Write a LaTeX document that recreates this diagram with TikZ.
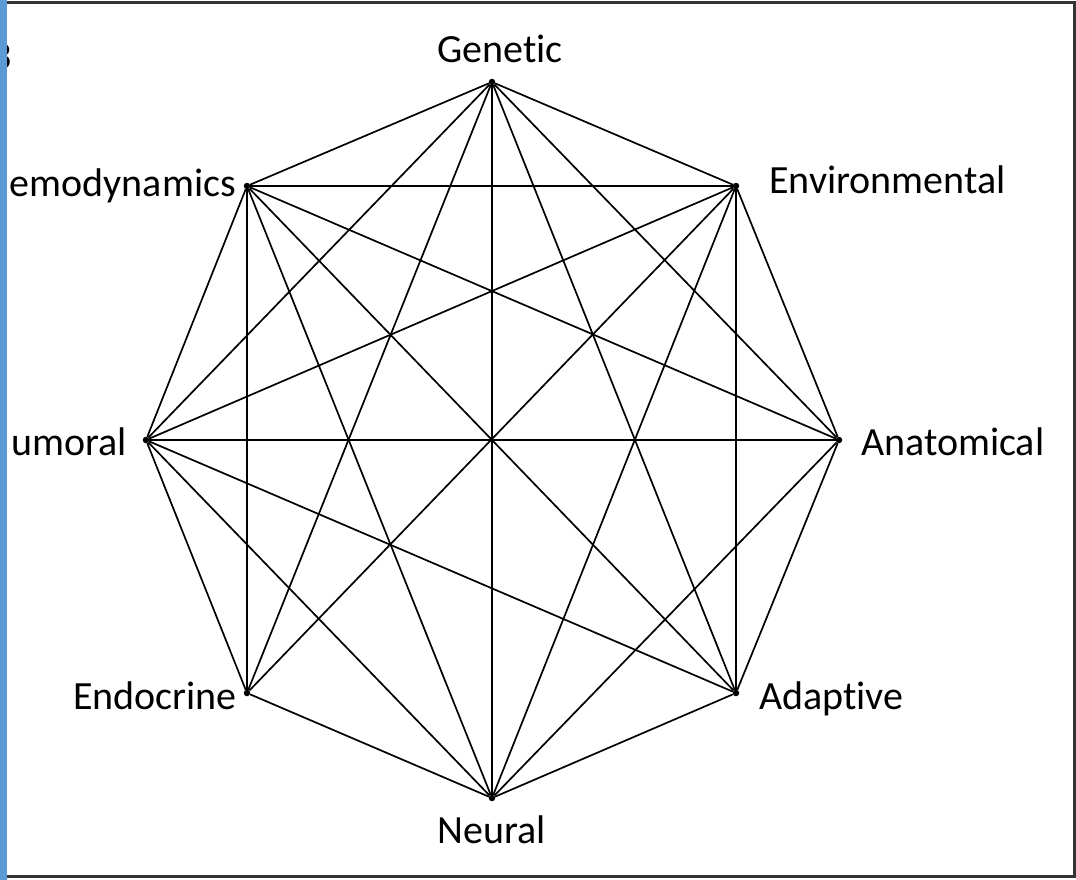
\documentclass[tikz,border=0pt]{standalone}
\usepackage{fontspec}
\setmainfont{Carlito}[Ligatures=CommonOff]
\definecolor{barblue}{HTML}{5B9BD5}
\definecolor{framegray}{HTML}{333333}
\begin{document}
\begin{tikzpicture}[x=1pt,y=-1pt,
  vtx/.style={circle,fill=black,inner sep=0pt,minimum size=6.5pt},
  lbl/.style={font=\fontsize{40}{48}\selectfont,inner sep=0pt,text=black},
  link/.style={line width=1.7pt,black}]
\useasboundingbox (0,0) rectangle (1076,880);
\begin{scope}
\clip (0,0) rectangle (1076,880);
\fill[white] (0,0) rectangle (1076,880);
% vertices
\node[vtx] (G)    at (492,82)  {};
\node[vtx] (Env)  at (736,186) {};
\node[vtx] (Ana)  at (839,440) {};
\node[vtx] (Ada)  at (736,693) {};
\node[vtx] (N)    at (492,798) {};
\node[vtx] (Endo) at (247,693) {};
\node[vtx] (Hum)  at (146,440) {};
\node[vtx] (Hemo) at (247,186) {};
% connectors
\foreach \a/\b in {G/Env,G/Ana,G/Ada,G/N,G/Endo,G/Hum,G/Hemo,
                   Env/Ana,Env/Ada,Env/N,Env/Endo,Env/Hum,Env/Hemo,
                   Ana/Ada,Ana/N,Ana/Hum,Ana/Hemo,
                   Ada/N,Ada/Hum,Ada/Hemo,
                   N/Endo,N/Hum,N/Hemo,
                   Endo/Hum,Endo/Hemo,
                   Hum/Hemo}
  \draw[link] (\a) -- (\b);
% labels
\node[lbl,anchor=base] (tG) at (500,63) {Genetic};
\node[lbl,anchor=base west] (tEnv) at (769,193) {Environmental};
\node[lbl,anchor=base west] (tAna) at (861,455) {Anatomical};
\node[lbl,anchor=base west] (tAda) at (759,709) {Adaptive};
\node[lbl,anchor=base] (tN) at (492,843) {Neural};
\node[lbl,anchor=base east] (tEndo) at (237,709) {Endocrine};
\node[lbl,anchor=base east] (tHum) at (127,455) {umoral};
\node[lbl,anchor=base east] (tHemo) at (236,196) {emodynamics};
\node[lbl,anchor=base east] (tTop) at (12,70) {3};
% frame
\draw[framegray,line width=3pt] (7,3) -- (1074,3) -- (1074,876) -- (7,876);
\fill[barblue] (0,0) rectangle (7,880);
\end{scope}
\end{tikzpicture}
\end{document}
